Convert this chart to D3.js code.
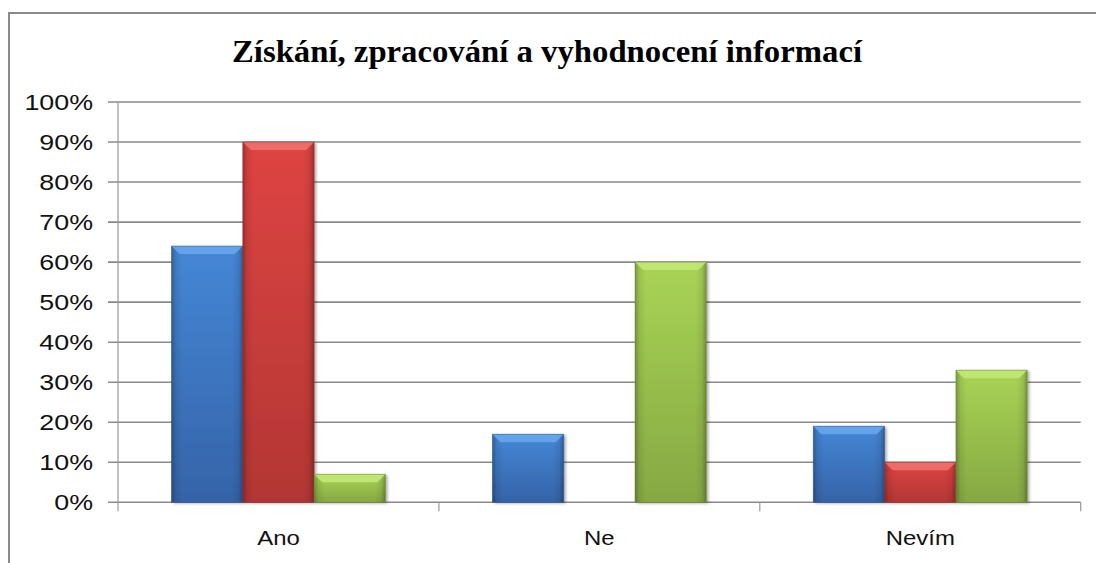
<!DOCTYPE html>
<html><head><meta charset="utf-8">
<script src="https://cdn.jsdelivr.net/npm/d3@7"></script>
<style>html,body{margin:0;padding:0;background:#fff;}svg{display:block;}</style>
</head><body>
<script>
const title = "Získání, zpracování a vyhodnocení informací";
const categories = ["Ano", "Ne", "Nevím"];
const series = ["s1", "s2", "s3"];
const values1 = [0.64, 0.17, 0.19];
const values2 = [0.90, 0.00, 0.10];
const values3 = [0.07, 0.60, 0.33];
const yTicks = [0, 0.1, 0.2, 0.3, 0.4, 0.5, 0.6, 0.7, 0.8, 0.9, 1.0];
const colors = [
  {top:"#4587d6", bot:"#3563a8", bevel:"#6aa8ee", edge:"#2b5290"},
  {top:"#de4442", bot:"#b33634", bevel:"#f07472", edge:"#8e2a28"},
  {top:"#a8d456", bot:"#86a843", bevel:"#c4ea78", edge:"#6a8634"}
];
const allValues = [values1, values2, values3];

const W = 1096, H = 563;
const svg = d3.select("body").append("svg").attr("width", W).attr("height", H);
svg.append("rect").attr("width", W).attr("height", H).attr("fill", "#fff");

const defs = svg.append("defs");
colors.forEach((c, i) => {
  const g = defs.append("linearGradient").attr("id", "vg" + i).attr("x1", 0).attr("y1", 0).attr("x2", 0).attr("y2", 1);
  g.append("stop").attr("offset", "0%").attr("stop-color", c.top);
  g.append("stop").attr("offset", "100%").attr("stop-color", c.bot);
});
const hg = defs.append("linearGradient").attr("id", "hg").attr("x1", 0).attr("y1", 0).attr("x2", 1).attr("y2", 0);
[[0, 0.28], [0.06, 0.08], [0.15, 0], [0.85, 0], [0.94, 0.08], [1, 0.3]].forEach(([o, a]) =>
  hg.append("stop").attr("offset", o).attr("stop-color", "#000").attr("stop-opacity", a));
const f = defs.append("filter").attr("id", "sh").attr("x", "-20%").attr("y", "-20%").attr("width", "140%").attr("height", "140%");
f.append("feDropShadow").attr("dx", 2).attr("dy", 1).attr("stdDeviation", 1.6).attr("flood-color", "#000").attr("flood-opacity", 0.35);

// outer border
svg.append("path").attr("d", `M9,${H} V13 H${W}`).attr("fill", "none").attr("stroke", "#8a8a8a").attr("stroke-width", 2);

const x0 = 118, x1 = 1080.7, yBot = 502.3, yTop = 102;
const x = d3.scaleBand().domain(categories).range([x0, x1]).paddingInner(0).paddingOuter(0);
const xs = d3.scaleBand().domain(series).range([0, x.bandwidth()]).paddingInner(0).paddingOuter(0.75);
const y = d3.scaleLinear().domain([0, 1]).range([yBot, yTop]);

// gridlines
svg.append("g").selectAll("line").data(yTicks).join("line")
  .attr("x1", 108).attr("x2", x1).attr("y1", d => y(d)).attr("y2", d => y(d))
  .attr("stroke", "#8a8a8a").attr("stroke-width", 1.6);

// y axis line
svg.append("line").attr("x1", x0).attr("x2", x0).attr("y1", yTop).attr("y2", yBot)
  .attr("stroke", "#9a9a9a").attr("stroke-width", 1.2);

// x axis ticks
const bounds = categories.map(c => x(c)).concat([x1]);
svg.append("g").selectAll("line").data(bounds).join("line")
  .attr("x1", d => d).attr("x2", d => d).attr("y1", yBot).attr("y2", yBot + 9)
  .attr("stroke", "#9a9a9a").attr("stroke-width", 1.2);

// y labels
svg.append("g").selectAll("text").data(yTicks).join("text")
  .attr("transform", d => `translate(93,${y(d) + 8}) scale(1.22,1)`)
  .attr("text-anchor", "end")
  .attr("font-family", "Liberation Sans, Arial, sans-serif").attr("font-size", 22).attr("fill", "#111")
  .text(d => Math.round(d * 100) + "%");

// x labels
svg.append("g").selectAll("text").data(categories).join("text")
  .attr("transform", d => `translate(${x(d) + x.bandwidth() / 2},545) scale(1.14,1)`)
  .attr("text-anchor", "middle")
  .attr("font-family", "Liberation Sans, Arial, sans-serif").attr("font-size", 21).attr("fill", "#111")
  .text(d => d);

// bars
const bars = [];
categories.forEach((c, ci) => series.forEach((s, si) => bars.push({c, s, si, v: allValues[si][ci]})));
const bg = svg.append("g");
bars.filter(b => b.v > 0).forEach(b => {
  const bx = x(b.c) + xs(b.s), bw = xs.bandwidth();
  const by = y(b.v), bh = yBot - by;
  const col = colors[b.si];
  const g = bg.append("g");
  g.append("rect").attr("x", bx).attr("y", by).attr("width", bw).attr("height", bh)
    .attr("fill", `url(#vg${b.si})`).attr("filter", "url(#sh)");
  g.append("rect").attr("x", bx).attr("y", by).attr("width", bw).attr("height", bh).attr("fill", "url(#hg)");
  const bv = Math.min(8, bh / 2);
  g.append("path").attr("d", `M${bx},${by} L${bx + bw},${by} L${bx + bw - bv},${by + bv} L${bx + bv},${by + bv} Z`)
    .attr("fill", col.bevel).attr("opacity", 0.85);
  g.append("rect").attr("x", bx).attr("y", by).attr("width", bw).attr("height", bh)
    .attr("fill", "none").attr("stroke", col.edge).attr("stroke-width", 0.8).attr("stroke-opacity", 0.6);
});

// title
svg.append("text").attr("x", 547).attr("y", 62).attr("text-anchor", "middle")
  .attr("font-family", "Liberation Serif, Times New Roman, serif").attr("font-weight", "bold").attr("font-size", 31)
  .attr("textLength", 630).attr("lengthAdjust", "spacingAndGlyphs").attr("fill", "#000")
  .text(title);
</script>
</body></html>
